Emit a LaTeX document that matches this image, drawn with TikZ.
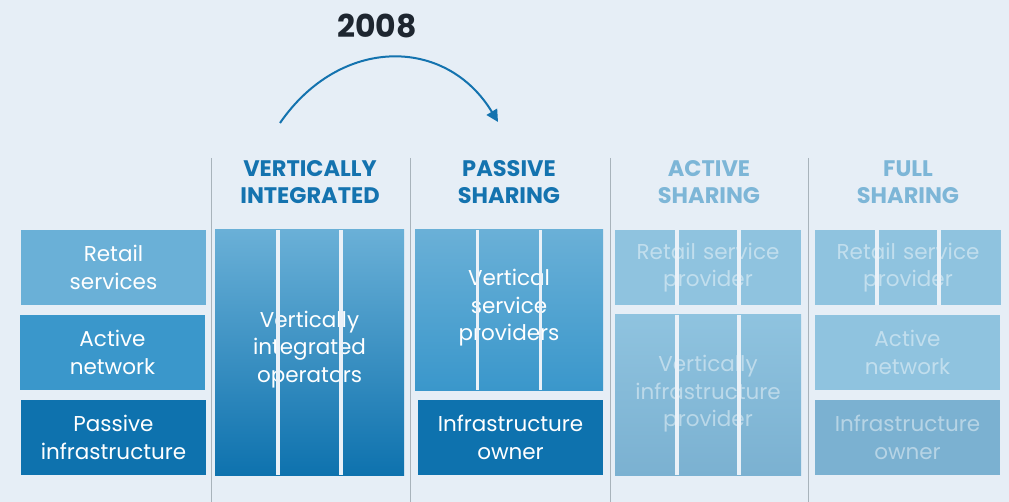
\documentclass[tikz,border=0pt]{standalone}
\usepackage{fontspec}
\setmainfont{Poppins}
\usetikzlibrary{calc,arrows.meta}
\definecolor{bg}{HTML}{E6EEF6}
\definecolor{sep}{HTML}{A8B3BB}
\definecolor{blueL}{HTML}{6AB0D7}
\definecolor{blueM}{HTML}{3A97CB}
\definecolor{blueD}{HTML}{0E72AE}
\definecolor{head}{HTML}{1473AF}
\definecolor{fadeA}{HTML}{8FC3DF}
\definecolor{fadeB}{HTML}{7BB1D1}
\definecolor{fadehead}{HTML}{7DB6D7}
\definecolor{yearc}{HTML}{1E2630}
\definecolor{gapc}{HTML}{EAF1F8}
\tikzset{
  box/.style={inner sep=0pt, minimum width=#1, text width=#1, align=center,
    text=white, font=\fontsize{21.5}{27.5}\selectfont},
  box/.default=185pt,
  faded/.style={text=white, text opacity=0.45},
  heading/.style={font=\fontsize{22.5}{27}\selectfont\bfseries, align=center, text=head},
  gap/.style={draw=gapc, line width=3.5pt},
  sepline/.style={draw=sep, line width=1pt},
}
\begin{document}
\begin{tikzpicture}[x=1pt,y=-1pt]
\fill[bg] (0,0) rectangle (1009,502);
\useasboundingbox (0,0) rectangle (1009,502);

% column separators
\foreach \xx in {211,410,610,808} \draw[sepline] (\xx,158) -- (\xx,502);

% year and arrow
\node[font=\fontsize{31.5}{32}\selectfont\bfseries, text=yearc] (year) at (377,26) {2008};
\coordinate (arrS) at (280,123);
\coordinate (arrE) at (498,122);
\draw[head, line width=2pt, -{Triangle[length=12pt,width=12pt]}]
  (arrS) .. controls (340,36) and (446,36) .. (arrE);

% headings
\node[heading] (h1) at (310,182) {VERTICALLY\\INTEGRATED};
\node[heading] (h2) at (509,182) {PASSIVE\\SHARING};
\node[heading, text=fadehead] (h3) at (709,182) {ACTIVE\\SHARING};
\node[heading, text=fadehead] (h4) at (908,182) {FULL\\SHARING};

% left legend
\node[box, fill=blueL, minimum height=75pt] (retail) at (113.5,267.5) {Retail\\services};
\node[box, fill=blueM, minimum height=75pt] (active) at (112.5,352.5) {Active\\network};
\node[box, fill=blueD, minimum height=75pt] (passive) at (113.5,437.5) {Passive\\infrastructure};

% vertically integrated
\node[box=189pt, top color=blueL, bottom color=blueD, minimum height=245pt] (vio) at (309.5,352.5) {};
\node[box=189pt] (viot) at (309.5,349.5) {Vertically\\integrated\\operators};
\foreach \f in {0.333,0.667}
  \draw[gap] ($(vio.north west)!\f!(vio.north east)$) -- ($(vio.south west)!\f!(vio.south east)$);

% passive sharing
\node[box=188pt, top color=blueL, bottom color=blueM, minimum height=160pt] (vsp) at (509,310) {};
\node[box=188pt] (vspt) at (509,308) {Vertical\\service\\providers};
\foreach \f in {0.333,0.667}
  \draw[gap] ($(vsp.north west)!\f!(vsp.north east)$) -- ($(vsp.south west)!\f!(vsp.south east)$);
\node[box, fill=blueD, minimum height=75pt] (io2) at (510.5,437.5) {Infrastructure\\owner};

% active sharing
\node[box=186pt, fill=fadeA, faded, minimum height=75pt] (rsp3) at (708,267.5) {Retail service\\provider};
\foreach \f in {0.333,0.667}
  \draw[gap] ($(rsp3.north west)!\f!(rsp3.north east)$) -- ($(rsp3.south west)!\f!(rsp3.south east)$);
\node[box=186pt, top color=fadeA, bottom color=fadeB, minimum height=160pt] (vip) at (708,395) {};
\node[box=186pt, faded] (vipt) at (708,394) {Vertically\\infrastructure\\provider};
\foreach \f in {0.333,0.667}
  \draw[gap] ($(vip.north west)!\f!(vip.north east)$) -- ($(vip.south west)!\f!(vip.south east)$);

% full sharing
\node[box=186pt, fill=fadeA, faded, minimum height=75pt] (rsp4) at (908,267.5) {Retail service\\provider};
\foreach \f in {0.333,0.667}
  \draw[gap] ($(rsp4.north west)!\f!(rsp4.north east)$) -- ($(rsp4.south west)!\f!(rsp4.south east)$);
\node[box, fill=fadeA, faded, minimum height=75pt] (an4) at (907.5,352.5) {Active\\network};
\node[box, fill=fadeB, faded, minimum height=75pt] (io4) at (907.5,437.5) {Infrastructure\\owner};
\end{tikzpicture}
\end{document}
